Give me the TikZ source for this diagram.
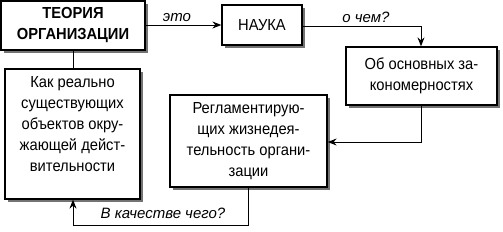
\documentclass[tikz,border=0pt]{standalone}
\usepackage{fontspec}
\setmainfont{Liberation Sans}[FakeStretch=0.92]
\newfontfamily\lblfont{Liberation Sans}
\usetikzlibrary{shadows,arrows.meta}
\begin{document}
\begin{tikzpicture}[x=1pt,y=-1pt,
  box/.style={draw=black,line width=1.3pt,fill=white,inner sep=0pt,align=center,
    font=\fontsize{16}{21}\selectfont,
    drop shadow={shadow xshift=3pt,shadow yshift=-3pt,fill=black!55,opacity=1}},
  txt/.style={inner sep=0pt,align=center,font=\fontsize{16}{21}\selectfont},
  conn/.style={line width=1pt,draw=black},
  arr/.style={conn,-{Stealth[length=9pt,width=7pt,inset=3pt]}},
  lbl/.style={font=\lblfont\fontsize{15}{18}\selectfont\itshape,inner sep=0pt}]
\useasboundingbox (0,0) rectangle (503,231);
\node[box,minimum width=144pt,minimum height=49pt] (A) at (73,25.5)
  {\bfseries ТЕОРИЯ\\\bfseries ОРГАНИЗАЦИИ};
\node[box,minimum width=80pt,minimum height=40pt] (B) at (262,25) {НАУКА};
\node[box,minimum width=151pt,minimum height=58pt] (C) at (421.5,76) {Об основных за-\\кономерностях};
\node[box,minimum width=157pt,minimum height=92pt] (D) at (248.5,141)
  {Регламентирую-\\щих жизнедея-\\тельность органи-\\зации};
\node[box,minimum width=135pt,minimum height=130pt] (E) at (72.5,134) {};
\node[txt,anchor=north] (Et) at (72.5,76.5)
  {Как реально\\существующих\\объектов окру-\\жающей дейст-\\вительности};
\coordinate (b1) at (421,26);
\coordinate (c1) at (421,142);
\coordinate (d1) at (248.5,225);
\coordinate (d2) at (73,225);
\draw[arr] (A.east |- B.west) -- (B.west);
\draw[arr] (B.east |- b1) -- (b1) -- (b1 |- C.north);
\draw[arr] (b1 |- C.south) -- (c1) -- (c1 -| D.east);
\draw[arr] (D.south) -- (d1) -- (d2) -- (d2 |- E.south);
\draw[conn] (d2 |- A.south) -- (d2 |- E.north);
\node[lbl] (l1) at (177,18) {это};
\node[lbl] (l2) at (366,17) {о чем?};
\node[lbl] (l3) at (163,213) {В качестве чего?};
\end{tikzpicture}
\end{document}
